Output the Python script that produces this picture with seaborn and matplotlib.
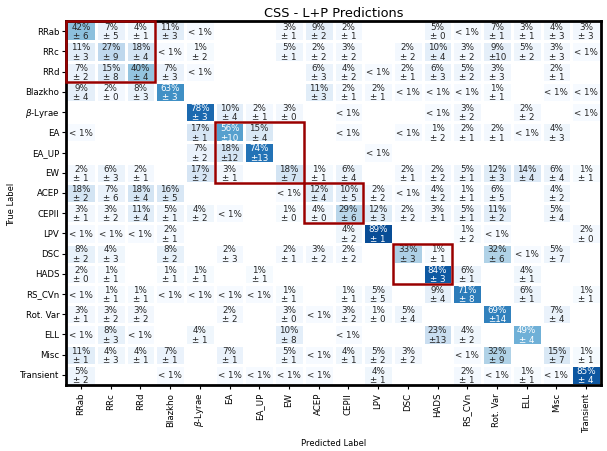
import numpy as np
import matplotlib
matplotlib.use("Agg")
import matplotlib.pyplot as plt
from matplotlib.patches import Rectangle
import seaborn as sns

classes = ["RRab", "RRc", "RRd", "Blazkho", r"$\beta$-Lyrae", "EA", "EA_UP", "EW",
           "ACEP", "CEPII", "LPV", "DSC", "HADS", "RS_CVn", "Rot. Var", "ELL",
           "Misc", "Transient"]

# percentages (0.5 means "< 1%", 0 means empty)
pct = [
    [42, 7, 4, 11, 0.5, 0, 0, 3, 9, 2, 0, 0, 5, 0.5, 7, 3, 4, 3],
    [11, 27, 18, 0.5, 1, 0, 0, 5, 2, 3, 0, 2, 10, 3, 9, 5, 3, 0.5],
    [7, 15, 40, 7, 0.5, 0, 0, 0, 6, 4, 0.5, 2, 6, 5, 3, 0, 2, 0],
    [9, 2, 8, 63, 0, 0, 0, 0, 11, 2, 2, 0.5, 0.5, 0.5, 1, 0, 0.5, 0.5],
    [0, 0, 0, 0, 78, 10, 2, 3, 0, 0.5, 0, 0, 0.5, 3, 0, 2, 0, 0.5],
    [0.5, 0, 0, 0, 17, 56, 15, 0, 0, 0.5, 0, 0.5, 1, 2, 2, 0.5, 4, 0],
    [0, 0, 0, 0, 7, 18, 74, 0, 0, 0, 0.5, 0, 0, 0, 0, 0, 0, 0],
    [2, 6, 2, 0, 17, 3, 0, 18, 1, 6, 0, 2, 2, 5, 12, 14, 6, 1],
    [18, 7, 18, 16, 0, 0, 0, 0.5, 12, 10, 2, 0.5, 4, 1, 6, 0, 4, 0],
    [3, 3, 11, 5, 4, 0.5, 0, 1, 4, 29, 12, 2, 3, 5, 11, 0, 5, 0],
    [0.5, 0.5, 0.5, 2, 0, 0, 0, 0, 0, 4, 89, 0, 0, 1, 0.5, 0, 0, 2],
    [8, 4, 0, 8, 0, 2, 0, 2, 3, 2, 0, 33, 1, 0, 32, 0.5, 5, 0],
    [2, 1, 0, 1, 1, 0, 1, 0, 0, 0, 0, 0, 84, 6, 0, 4, 0, 0],
    [0.5, 1, 1, 0.5, 0.5, 0.5, 0.5, 1, 0, 1, 5, 0, 9, 71, 0, 6, 0, 1],
    [3, 3, 3, 0, 0, 2, 0, 3, 0.5, 3, 1, 5, 0, 0, 69, 0, 7, 0],
    [0.5, 8, 0.5, 0, 4, 0, 0, 10, 0, 0.5, 0, 0, 23, 4, 0, 49, 0, 0],
    [11, 4, 4, 7, 0, 7, 0, 5, 0.5, 4, 5, 3, 0, 0.5, 32, 0, 15, 1],
    [5, 0, 0, 0.5, 0, 0.5, 0.5, 0.5, 0.5, 0, 4, 0, 0, 2, 0.5, 1, 0.5, 85],
]

err = [
    [6, 5, 1, 3, 0, 0, 0, 1, 2, 1, 0, 0, 0, 0, 1, 1, 3, 3],
    [3, 9, 4, 0, 2, 0, 0, 1, 2, 2, 0, 2, 4, 2, 10, 2, 3, 0],
    [2, 8, 4, 3, 0, 0, 0, 0, 3, 2, 0, 1, 3, 2, 3, 0, 1, 0],
    [4, 0, 3, 3, 0, 0, 0, 0, 3, 1, 1, 0, 0, 0, 1, 0, 0, 0],
    [0, 0, 0, 0, 3, 4, 1, 0, 0, 0, 0, 0, 0, 2, 0, 2, 0, 0],
    [0, 0, 0, 0, 1, 10, 4, 0, 0, 0, 0, 0, 2, 1, 1, 0, 3, 0],
    [0, 0, 0, 0, 2, 12, 13, 0, 0, 0, 0, 0, 0, 0, 0, 0, 0, 0],
    [1, 3, 1, 0, 2, 1, 0, 7, 1, 4, 0, 1, 2, 1, 3, 4, 4, 1],
    [2, 6, 4, 5, 0, 0, 0, 0, 4, 5, 2, 0, 2, 1, 5, 0, 2, 0],
    [1, 2, 4, 1, 2, 0, 0, 0, 0, 6, 3, 2, 1, 1, 2, 0, 4, 0],
    [0, 0, 0, 1, 0, 0, 0, 0, 0, 2, 1, 0, 0, 2, 0, 0, 0, 0],
    [2, 3, 0, 2, 0, 3, 0, 1, 2, 2, 0, 3, 1, 0, 6, 0, 7, 0],
    [0, 1, 0, 1, 1, 0, 1, 0, 0, 0, 0, 0, 3, 1, 0, 1, 0, 0],
    [0, 1, 1, 0, 0, 0, 0, 1, 0, 1, 5, 0, 4, 8, 0, 1, 0, 1],
    [1, 2, 2, 0, 0, 2, 0, 0, 0, 2, 0, 4, 0, 0, 14, 0, 4, 0],
    [0, 3, 0, 0, 1, 0, 0, 8, 0, 0, 0, 0, 13, 2, 0, 4, 0, 0],
    [1, 3, 1, 1, 0, 1, 0, 1, 0, 1, 2, 2, 0, 0, 9, 0, 7, 1],
    [2, 0, 0, 0, 0, 0, 0, 0, 0, 0, 1, 0, 0, 1, 0, 1, 0, 4],
]

# groups of related classes outlined in red
groups = [["RRab", "RRc", "RRd"], ["EA", "EA_UP", "EW"], ["ACEP", "CEPII"], ["DSC", "HADS"]]

P = np.array(pct, dtype=float)
E = np.array(err, dtype=int)
labels = np.empty(P.shape, dtype=object)
for i in range(P.shape[0]):
    for j in range(P.shape[1]):
        v = P[i, j]
        if v == 0:
            labels[i, j] = ""
        elif v < 1:
            labels[i, j] = "< 1%"
        else:
            labels[i, j] = f"{int(v)}%\n±{E[i, j]:>2d}"

fig = plt.figure(figsize=(6.07, 4.52), dpi=100)
ax = fig.add_axes([0.109, 0.146, 0.881, 0.805])
sns.heatmap(P, mask=(P == 0), cmap="Blues", vmin=0, vmax=100, annot=labels, fmt="",
            annot_kws={"fontsize": 6.3, "linespacing": 1.05},
            linewidths=1, linecolor="white", cbar=False, ax=ax,
            xticklabels=classes, yticklabels=classes)

for sp in ax.spines.values():
    sp.set_visible(True)
    sp.set_color("black")
    sp.set_linewidth(2)

plain = [c.replace(r"$\beta$-Lyrae", "b-Lyrae") for c in classes]
for g in groups:
    idx = [plain.index(c) for c in g]
    lo, n = min(idx), len(idx)
    ax.add_patch(Rectangle((lo, lo), n, n, fill=False, edgecolor="#990000",
                           linewidth=1.8, zorder=5, clip_on=False))

ax.tick_params(axis="both", labelsize=6.2, length=3, width=0.8, pad=2)
plt.setp(ax.get_xticklabels(), rotation=90)
plt.setp(ax.get_yticklabels(), rotation=0)
ax.set_xlabel("Predicted Label", fontsize=6, labelpad=5)
ax.set_ylabel("True Label", fontsize=6, labelpad=3)
ax.set_title("CSS - L+P Predictions", fontsize=9.3, pad=4)

fig.savefig("out.png", dpi=100)
